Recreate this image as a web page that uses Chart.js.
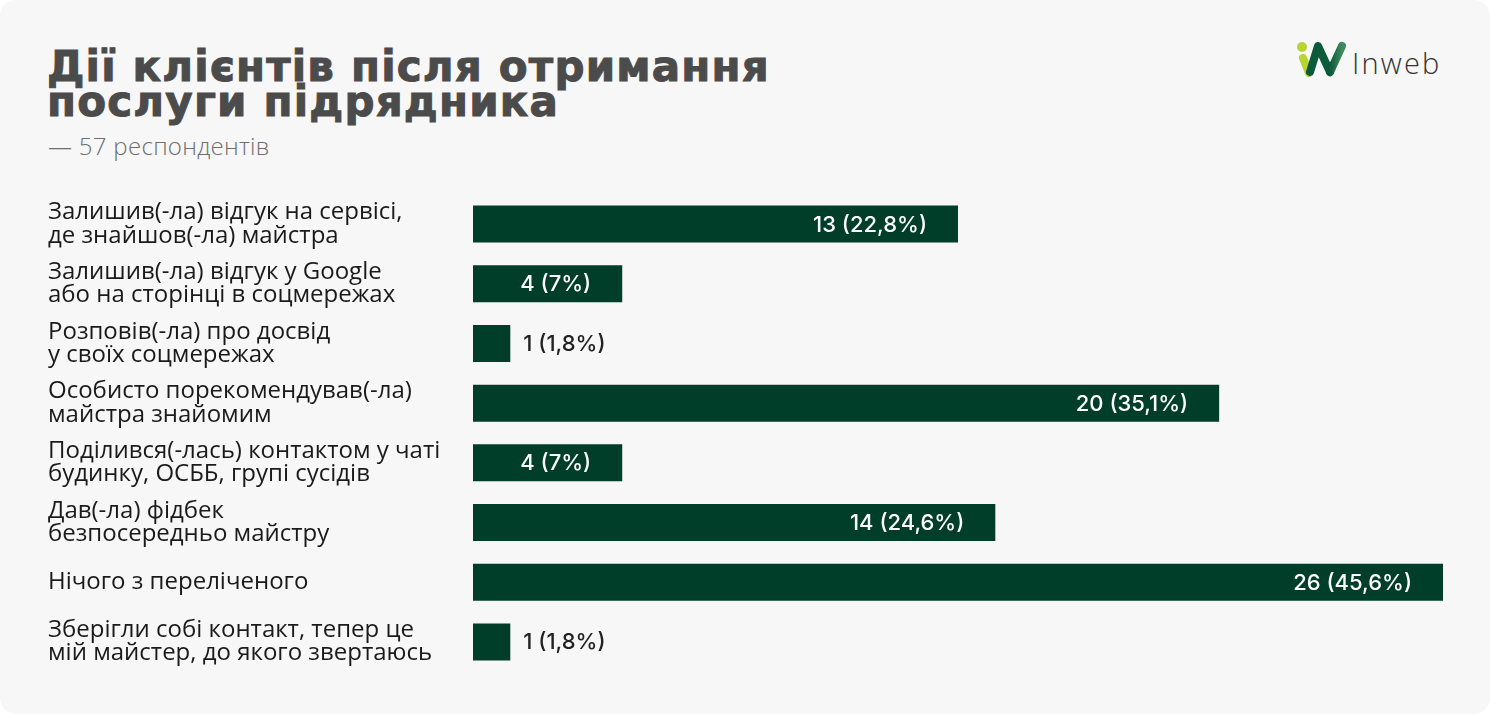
<!DOCTYPE html>
<html lang="uk">
<head>
<meta charset="utf-8">
<script src="https://cdn.jsdelivr.net/npm/chart.js@4.4.0/dist/chart.umd.min.js"></script>
<style>
  html, body { margin: 0; padding: 0; background: #ffffff; }
  .card {
    position: relative;
    width: 1490px;
    height: 714px;
    background: #f7f7f7;
    border-radius: 16px;
    overflow: hidden;
  }
  h1 {
    position: absolute;
    left: 47px;
    top: 49px;
    margin: 0;
    font-family: "DejaVu Sans", sans-serif;
    font-weight: bold;
    font-size: 42px;
    line-height: 35px;
    color: #4b4b4b;
    letter-spacing: 1.2px;
    -webkit-text-stroke: 1px #4b4b4b;
  }
  .sub {
    position: absolute;
    left: 48px;
    top: 129px;
    margin: 0;
    font-family: "Open Sans", sans-serif;
    font-weight: 300;
    font-size: 24px;
    letter-spacing: 0.3px;
    color: #6e6e6e;
  }
  .logo { position: absolute; left: 1290px; top: 36px; }
  #chartWrap { position: absolute; left: 48px; top: 168px; width: 1395px; height: 530px; }
</style>
</head>
<body>
<div class="card">
  <h1>Дії клієнтів після отримання<br>послуги підрядника</h1>
  <p class="sub">— 57 респондентів</p>
  <svg class="logo" width="170" height="46" viewBox="0 0 170 46">
    <defs>
      <linearGradient id="wg" x1="0" y1="0" x2="1" y2="0">
        <stop offset="0" stop-color="#0b5a3a"/>
        <stop offset="1" stop-color="#3f8a5e"/>
      </linearGradient>
    </defs>
    <circle cx="12" cy="11" r="5" fill="#b8d432"/>
    <polyline points="13,22 19,37" fill="none" stroke="#b8d432" stroke-width="8" stroke-linecap="round"/>
    <polyline points="20,36 28,10 40,36" fill="none" stroke="#0b5a3a" stroke-width="8" stroke-linecap="round" stroke-linejoin="round"/>
    <polyline points="40,36 52,10" fill="none" stroke="url(#wg)" stroke-width="8" stroke-linecap="round"/>
    <text x="62" y="38" font-family="Open Sans, sans-serif" font-size="29" font-weight="300" letter-spacing="2.2" fill="#333333">Inweb</text>
  </svg>
  <div id="chartWrap"><canvas id="actionsChart" width="1395" height="530"></canvas></div>
</div>
<script>
// Категорії (багаторядкові підписи)
const categories = [
  ["Залишив(-ла) відгук на сервісі,", "де знайшов(-ла) майстра"],
  ["Залишив(-ла) відгук у Google", "або на сторінці в соцмережах"],
  ["Розповів(-ла) про досвід", "у своїх соцмережах"],
  ["Особисто порекомендував(-ла)", "майстра знайомим"],
  ["Поділився(-лась) контактом у чаті", "будинку, ОСББ, групі сусідів"],
  ["Дав(-ла) фідбек", "безпосередньо майстру"],
  ["Нічого з переліченого"],
  ["Зберігли собі контакт, тепер це", "мій майстер, до якого звертаюсь"]
];
// Кількість відповідей
const counts = [13, 4, 1, 20, 4, 14, 26, 1];
// Відсотки, як на картинці
const percents = ["22,8", "7", "1,8", "35,1", "7", "24,6", "45,6", "1,8"];

// Підписи значень на барах
const barLabels = {
  id: "barLabels",
  afterDatasetsDraw(chart) {
    const ctx = chart.ctx;
    const meta = chart.getDatasetMeta(0);
    ctx.save();
    ctx.font = "500 22px Inter, sans-serif";
    ctx.textBaseline = "middle";
    meta.data.forEach((bar, i) => {
      const text = counts[i] + " (" + percents[i] + "%)";
      const w = ctx.measureText(text).width;
      const barW = bar.x - bar.base;
      if (barW > w + 60) {
        ctx.fillStyle = "#ffffff";
        ctx.textAlign = "right";
        ctx.fillText(text, bar.x - 31, bar.y + 1);
      } else {
        ctx.fillStyle = "#222222";
        ctx.textAlign = "left";
        ctx.fillText(text, bar.x + 13, bar.y + 1);
      }
    });
    ctx.restore();
  }
};

const ctx = document.getElementById("actionsChart").getContext("2d");
new Chart(ctx, {
  type: "bar",
  data: {
    labels: categories,
    datasets: [{
      data: counts,
      backgroundColor: "#003e29",
      borderWidth: 0,
      categoryPercentage: 1,
      barPercentage: 0.62
    }]
  },
  options: {
    indexAxis: "y",
    responsive: false,
    animation: false,
    layout: { padding: 0 },
    scales: {
      x: { display: false, min: 0, max: 26 },
      y: {
        grid: { display: false },
        border: { display: false },
        ticks: {
          crossAlign: "far",
          color: "#1a1a1a",
          font: { family: "'Open Sans', sans-serif", size: 24, lineHeight: 0.97 }
        },
        afterFit(scale) { scale.width = 425; }
      }
    },
    plugins: {
      legend: { display: false },
      tooltip: { enabled: false }
    }
  },
  plugins: [barLabels]
});
</script>
</body>
</html>
